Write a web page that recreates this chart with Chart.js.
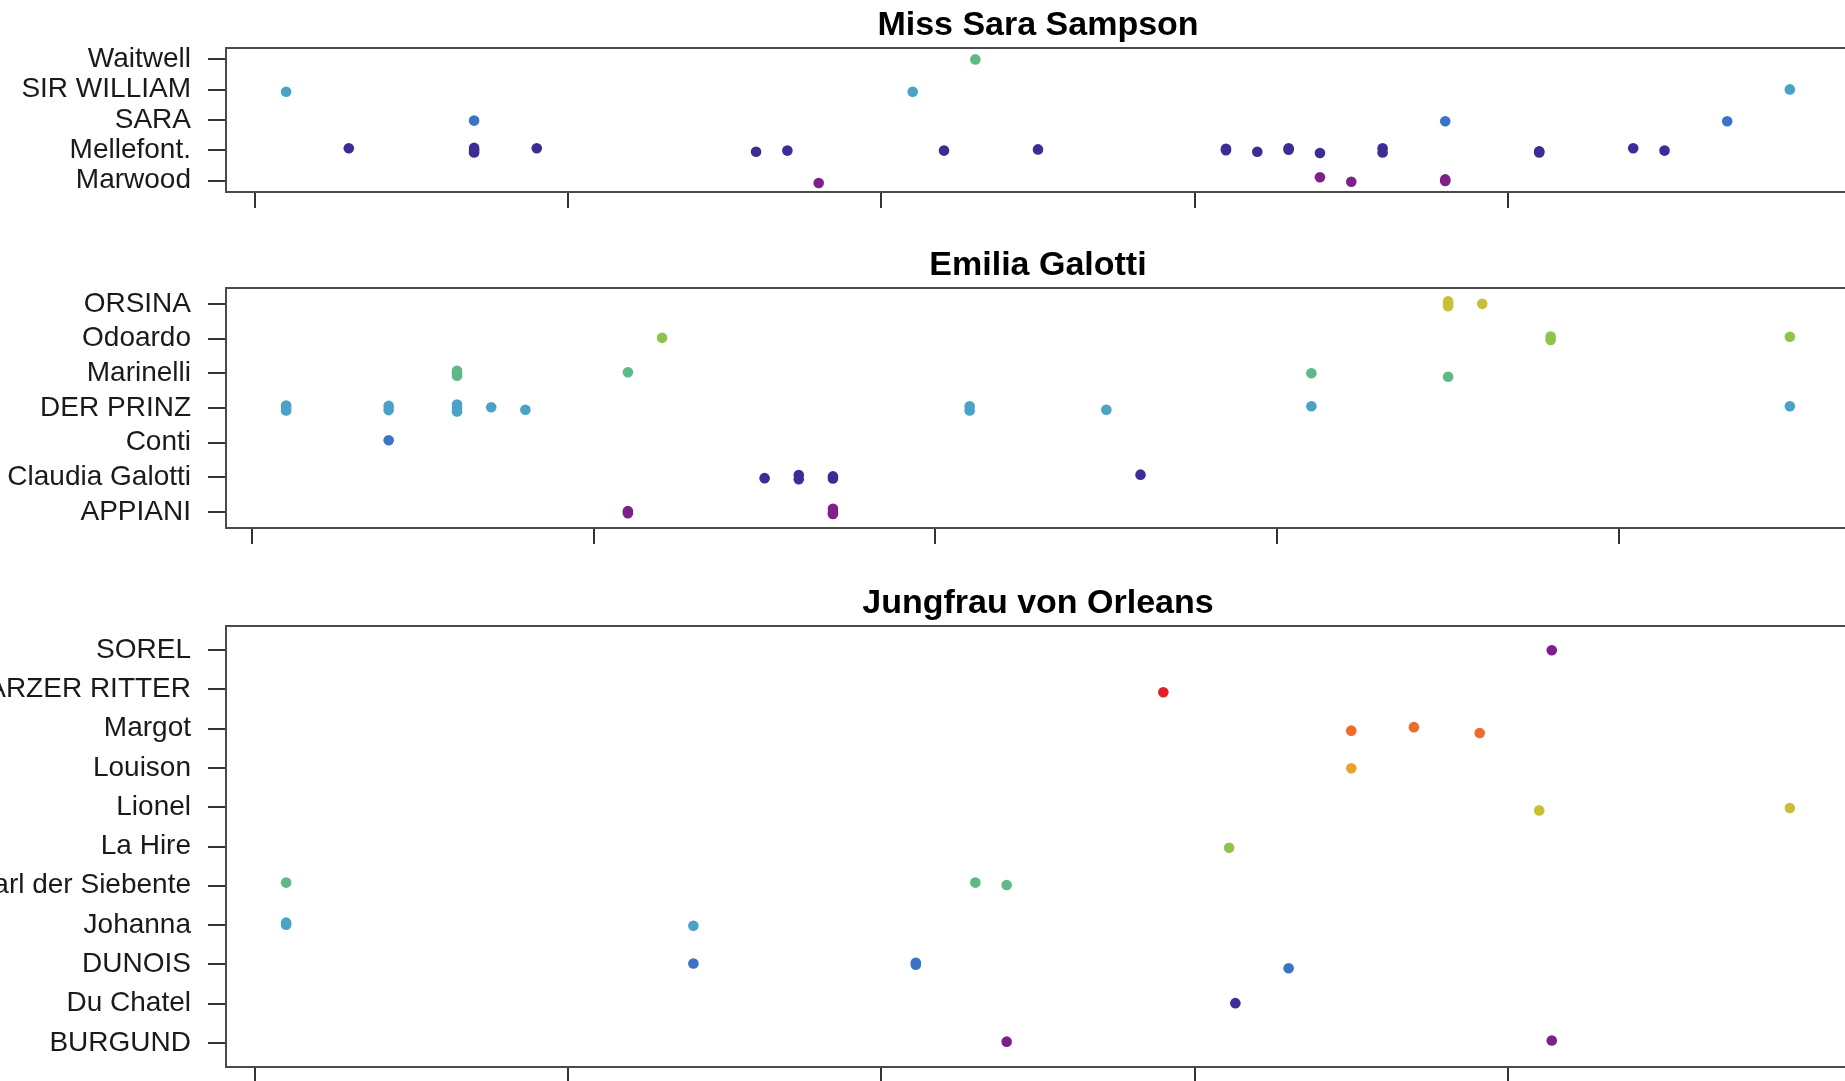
<!DOCTYPE html>
<html>
<head>
<meta charset="utf-8">
<script src="https://cdn.jsdelivr.net/npm/chart.js@4.4.1/dist/chart.umd.min.js"></script>
<style>
  html, body { margin: 0; padding: 0; background: #ffffff; overflow: hidden; width: 1845px; height: 1081px; }
  canvas { position: absolute; }
</style>
</head>
<body>
<canvas id="c1"></canvas>
<canvas id="c2"></canvas>
<canvas id="c3"></canvas>
<script>
// ---------- DATA ----------
const panelTitles = ["Miss Sara Sampson", "Emilia Galotti", "Jungfrau von Orleans"];

// palette cycled over characters (bottom to top)
const palette = ["#7e1f8c", "#3e2b95", "#3b73c6", "#4aa2c6", "#5fb887", "#8dc44c", "#c9bf36", "#e8a232", "#ee6b2b", "#e02228"];

// x-axis ticks (scene position)
const xTicks = [0, 10, 20, 30, 40];

// Panel 1: Miss Sara Sampson — characters bottom to top
const sampsonChars = ["Marwood", "Mellefont.", "SARA", "SIR WILLIAM", "Waitwell"];
const sampsonMarwood = [[18,0.92],[34,1.11],[35,0.96],[38,1.04],[38,0.99]];
const sampsonMellefont = [[3,2.07],[7,2.08],[7,1.93],[7,2.0],[9,2.07],[16,1.95],[17,1.99],[22,1.99],[25,2.03],[31,2.05],[31,2.0],[32,1.95],[33,2.07],[33,2.02],[34,1.91],[36,2.07],[36,1.93],[41,1.97],[41,1.93],[44,2.07],[45,1.99]];
const sampsonSara = [[7,2.98],[38,2.96],[47,2.96]];
const sampsonSirWilliam = [[1,3.93],[21,3.93],[49,4.01]];
const sampsonWaitwell = [[23,5.0]];

// Panel 2: Emilia Galotti
const galottiChars = ["APPIANI", "Claudia Galotti", "Conti", "DER PRINZ", "Marinelli", "Odoardo", "ORSINA"];
const galottiAppiani = [[11,1.03],[11,0.97],[17,1.1],[17,0.95],[17,0.99]];
const galottiClaudia = [[15,1.98],[16,2.07],[16,1.95],[17,2.03],[17,1.97],[26,2.08]];
const galottiConti = [[4,3.07]];
const galottiPrinz = [[1,4.07],[1,3.93],[1,4.0],[4,4.06],[4,3.94],[6,4.1],[6,3.9],[6,4.0],[7,4.02],[8,3.95],[21,4.05],[21,3.93],[25,3.95],[31,4.05],[45,4.05]];
const galottiMarinelli = [[6,5.07],[6,4.93],[6,5.0],[11,5.03],[31,5.0],[35,4.9]];
const galottiOdoardo = [[12,6.02],[38,6.06],[38,5.96],[45,6.05]];
const galottiOrsina = [[35,7.07],[35,6.93],[35,7.0],[36,7.0]];

// Panel 3: Jungfrau von Orleans
const orleansChars = ["BURGUND", "Du Chatel", "DUNOIS", "Johanna", "Karl der Siebente", "La Hire", "Lionel", "Louison", "Margot", "SCHWARZER RITTER", "SOREL"];
const orleansBurgund = [[24,1.03],[41.4,1.06]];
const orleansDuChatel = [[31.3,2.01]];
const orleansDunois = [[14,3.02],[21.1,3.04],[21.1,2.99],[33,2.9]];
const orleansJohanna = [[1,4.06],[1,4.01],[14,3.98]];
const orleansKarl = [[1,5.08],[23,5.08],[24,5.02]];
const orleansLaHire = [[31.1,5.97]];
const orleansLionel = [[41,6.92],[49,6.98]];
const orleansLouison = [[35,7.99]];
const orleansMargot = [[35,8.95],[37,9.04],[39.1,8.89]];
const orleansRitter = [[29,9.93]];
const orleansSorel = [[41.4,11.0]];

// data ranges (extended 4% like R)
const sampsonX = [1, 49], galottiX = [1, 45], orleansX = [1, 49];

// ---------- LAYOUT ----------
const FONT = "'Liberation Sans', Arial, Helvetica, sans-serif";
Chart.defaults.font.family = FONT;
const CANVAS_LEFT = -300;   // canvas extends beyond the window on the left
const AXIS_W = 526;         // y-axis area inside the canvas
const PLOT_W = 1624;
const TOP_PAD = 48;
const BOTTOM_H = 40;

function extend(r) { const d = (r[1] - r[0]) * 0.04; return [r[0] - d, r[1] + d]; }

const boxPlugin = {
  id: 'boxAndTitle',
  afterDraw(chart) {
    const ctx = chart.ctx, a = chart.chartArea;
    ctx.save();
    ctx.strokeStyle = '#4a4a4a';
    ctx.lineWidth = 2;
    ctx.strokeRect(a.left, a.top, a.right - a.left, a.bottom - a.top);
    ctx.fillStyle = '#000';
    ctx.font = 'bold 34px ' + FONT;
    ctx.textAlign = 'center';
    ctx.textBaseline = 'middle';
    ctx.fillText(chart.options.plugins.panelTitle.text, (a.left + a.right) / 2, a.top - 22);
    ctx.restore();
  }
};

function makePanel(id, top, boxH, title, chars, series, xr) {
  const cv = document.getElementById(id);
  const W = AXIS_W + PLOT_W + 50, H = TOP_PAD + boxH + BOTTOM_H;
  cv.width = W; cv.height = H;
  cv.style.width = W + 'px'; cv.style.height = H + 'px';
  cv.style.left = CANVAS_LEFT + 'px'; cv.style.top = top + 'px';
  const n = chars.length;
  const xl = extend(xr);
  const yl = extend([0.8, n + 0.2]);
  const datasets = chars.map((c, i) => ({
    label: c,
    data: series[i].map(p => ({ x: p[0], y: p[1] })),
    backgroundColor: palette[i % palette.length],
    borderColor: palette[i % palette.length],
    borderWidth: 0,
    pointRadius: 5.3,
    pointHoverRadius: 5.3
  }));
  new Chart(cv, {
    type: 'scatter',
    data: { datasets },
    options: {
      responsive: false,
      animation: false,
      devicePixelRatio: 1,
      layout: { padding: { top: TOP_PAD, left: 0, right: 50, bottom: 0 } },
      plugins: { legend: { display: false }, tooltip: { enabled: false }, panelTitle: { text: title } },
      scales: {
        x: {
          type: 'linear', position: 'bottom', min: xl[0], max: xl[1],
          afterBuildTicks: s => { s.ticks = xTicks.map(v => ({ value: v })); },
          afterFit: s => { s.height = BOTTOM_H; },
          ticks: { display: false },
          grid: { display: true, drawOnChartArea: false, drawTicks: true, tickLength: 16, color: '#333', lineWidth: 2 },
          border: { display: false }
        },
        y: {
          type: 'linear', position: 'left', min: yl[0], max: yl[1],
          afterBuildTicks: s => { s.ticks = chars.map((c, i) => ({ value: i + 1 })); },
          afterFit: s => { s.width = AXIS_W; },
          ticks: {
            autoSkip: false,
            padding: 17, color: '#1a1a1a', font: { size: 28, family: FONT },
            callback: v => chars[Math.round(v) - 1]
          },
          grid: { display: true, drawOnChartArea: false, drawTicks: true, tickLength: 18, color: '#333', lineWidth: 2 },
          border: { display: false }
        }
      }
    },
    plugins: [boxPlugin]
  });
}

makePanel('c1', 0, 144, panelTitles[0], sampsonChars,
  [sampsonMarwood, sampsonMellefont, sampsonSara, sampsonSirWilliam, sampsonWaitwell], sampsonX);
makePanel('c2', 240, 240, panelTitles[1], galottiChars,
  [galottiAppiani, galottiClaudia, galottiConti, galottiPrinz, galottiMarinelli, galottiOdoardo, galottiOrsina], galottiX);
makePanel('c3', 578, 441, panelTitles[2], orleansChars,
  [orleansBurgund, orleansDuChatel, orleansDunois, orleansJohanna, orleansKarl, orleansLaHire, orleansLionel, orleansLouison, orleansMargot, orleansRitter, orleansSorel], orleansX);
</script>
</body>
</html>
